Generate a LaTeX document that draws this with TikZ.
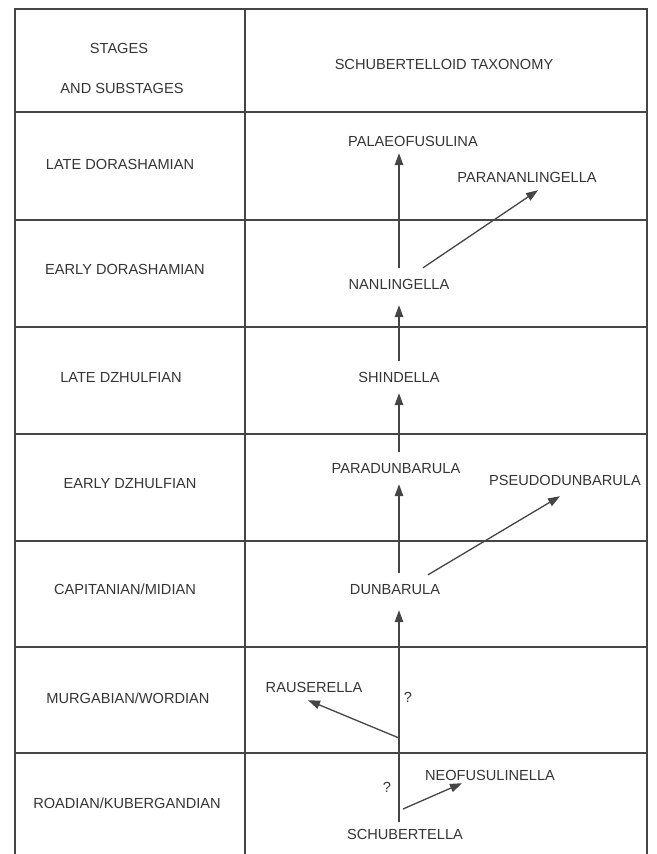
\documentclass[tikz,border=0pt]{standalone}
\usepackage{fontspec}
\setmainfont{Liberation Sans}
\usetikzlibrary{arrows.meta}
\definecolor{ink}{HTML}{353535}
\definecolor{rule}{HTML}{454545}
\begin{document}
\begin{tikzpicture}[x=1pt,y=-1pt,
  every node/.style={text=ink,font=\fontsize{14.6}{17}\selectfont},
  grid/.style={draw=rule,line width=1.3pt},
  taxon/.style={inner xsep=0pt,inner ysep=10.5pt,text height=11pt,text depth=0pt},
  stage/.style={inner sep=0pt},
  arr/.style={draw=rule,line width=1.3pt,-{Triangle[length=12pt,width=8.5pt]}},
  plain/.style={draw=rule,line width=1.3pt}]
\useasboundingbox (0,0) rectangle (656,854);
\fill[white] (0,0) rectangle (656,854);
% table
\draw[grid] (15,854) -- (15,9) -- (647,9) -- (647,854);
\draw[grid] (245,9) -- (245,854);
\foreach \yy in {112,220,327,434,541,647,753}
  \draw[grid] (15,\yy) -- (647,\yy);
% header
\node[stage] (hs1) at (119,48) {STAGES};
\node[stage] (hs2) at (122,88) {AND SUBSTAGES};
\node[stage] (ht) at (444,64) {SCHUBERTELLOID TAXONOMY};
% stages
\node[stage] (s1) at (120,164) {LATE DORASHAMIAN};
\node[stage] (s2) at (125,269) {EARLY DORASHAMIAN};
\node[stage] (s3) at (121,378) {LATE DZHULFIAN};
\node[stage] (s4) at (130,484) {EARLY DZHULFIAN};
\node[stage] (s5) at (125,589) {CAPITANIAN/MIDIAN};
\node[stage] (s6) at (128,698) {MURGABIAN/WORDIAN};
\node[stage] (s7) at (127,803) {ROADIAN/KUBERGANDIAN};
% taxa
\coordinate (axis) at (399,0);
\node[taxon] (pal) at (413,141) {PALAEOFUSULINA};
\node[taxon] (paran) at (527,177) {PARANANLINGELLA};
\node[taxon] (nan) at (399,284) {NANLINGELLA};
\node[taxon] (shin) at (399,377) {SHINDELLA};
\node[taxon] (parad) at (396,468) {PARADUNBARULA};
\node[taxon] (pseudo) at (565,480) {PSEUDODUNBARULA};
\node[taxon] (dunb) at (395,589) {DUNBARULA};
\node[taxon] (raus) at (314,687) {RAUSERELLA};
\node[taxon] (neo) at (490,775) {NEOFUSULINELLA};
\node[taxon] (schub) at (405,834) {SCHUBERTELLA};
\node[stage] (q1) at (408,697) {?};
\node[stage] (q2) at (387,787) {?};
\coordinate (br1) at (399,738);
\coordinate (br2) at (403,809);
% connectors
\draw[arr,shorten >=-4pt] (nan.north -| axis) -- (pal.south -| axis);
\draw[arr] ([xshift=24pt]nan.north) -- ([xshift=11pt,yshift=3pt]paran.south);
\draw[arr,shorten >=5pt] (shin.north -| axis) -- (nan.south -| axis);
\draw[arr] (parad.north -| axis) -- (shin.south -| axis);
\draw[arr] (dunb.north -| axis) -- (parad.south -| axis);
\draw[arr] ([xshift=33pt,yshift=-2pt]dunb.north) -- ([xshift=-5pt]pseudo.south);
\draw[arr,shorten <=-4pt,shorten >=5pt] (schub.north -| axis) -- (dunb.south -| axis);
\draw[arr] (br1) -- ([xshift=-6pt,yshift=3pt]raus.south);
\draw[arr] (br2) -- ([xshift=-28pt,yshift=8pt]neo.south);
\end{tikzpicture}
\end{document}
